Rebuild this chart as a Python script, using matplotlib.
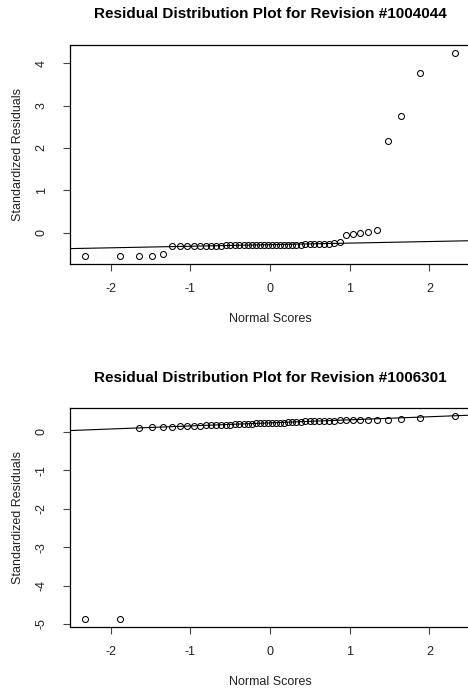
import numpy as np
import matplotlib
matplotlib.use('Agg')
import matplotlib.pyplot as plt

plt.rcParams['font.family'] = ['Liberation Sans', 'DejaVu Sans']

# Normal scores (theoretical quantiles) shared by both revisions, n = 50
normal_scores = [-2.326, -1.881, -1.645, -1.476, -1.341, -1.227, -1.126, -1.036,
                 -0.954, -0.878, -0.806, -0.739, -0.674, -0.613, -0.553, -0.496,
                 -0.440, -0.385, -0.332, -0.279, -0.228, -0.176, -0.126, -0.075,
                 -0.025, 0.025, 0.075, 0.126, 0.176, 0.228, 0.279, 0.332,
                 0.385, 0.440, 0.496, 0.553, 0.613, 0.674, 0.739, 0.806,
                 0.878, 0.954, 1.036, 1.126, 1.227, 1.341, 1.476, 1.645,
                 1.881, 2.326]

# Sorted standardized residuals, revision #1004044
resid_1004044 = [-0.55, -0.55, -0.55, -0.545, -0.50, -0.31, -0.31, -0.31,
                 -0.31, -0.31, -0.31, -0.31, -0.31, -0.31, -0.30, -0.30,
                 -0.30, -0.30, -0.30, -0.30, -0.30, -0.30, -0.30, -0.30,
                 -0.30, -0.30, -0.30, -0.30, -0.29, -0.29, -0.29, -0.29,
                 -0.29, -0.28, -0.26, -0.26, -0.26, -0.26, -0.26, -0.25,
                 -0.22, -0.06, -0.03, 0.00, 0.02, 0.06, 2.17, 2.76,
                 3.76, 4.24]

# Sorted standardized residuals, revision #1006301
resid_1006301 = [-4.86, -4.86, 0.11, 0.12, 0.13, 0.13, 0.14, 0.15,
                 0.15, 0.16, 0.17, 0.17, 0.18, 0.18, 0.19, 0.19,
                 0.20, 0.20, 0.21, 0.21, 0.21, 0.22, 0.22, 0.22,
                 0.23, 0.23, 0.23, 0.24, 0.24, 0.25, 0.25, 0.26,
                 0.26, 0.27, 0.27, 0.28, 0.28, 0.29, 0.29, 0.29,
                 0.30, 0.30, 0.31, 0.31, 0.31, 0.31, 0.32, 0.33,
                 0.36, 0.41]

revisions = ['1004044', '1006301']
residuals = [resid_1004044, resid_1006301]


def r_range(v):
    lo, hi = min(v), max(v)
    pad = (hi - lo) * 0.04
    return lo - pad, hi + pad


fig = plt.figure(figsize=(4.68, 6.88), dpi=100)
W, H = 468, 688
# axes boxes in pixels: left, top, width, height
boxes = [(69.8, 45, 400.4, 219), (69.8, 408, 400.4, 218.7)]

for rev, res, (l, t, w, h) in zip(revisions, residuals, boxes):
    ax = fig.add_axes([l / W, (H - t - h) / H, w / W, h / H])
    ax.plot(normal_scores, res, 'o', mfc='none', mec='black', ms=4.3, mew=0.75)

    # qqline through the quartiles
    q1, q3 = np.quantile(res, [0.25, 0.75])
    z = 0.6744898
    slope = (q3 - q1) / (2 * z)
    ax.axline((0, (q1 + q3) / 2), slope=slope, color='black', lw=0.8)

    ax.set_xlim(r_range(normal_scores))
    ax.set_ylim(r_range(res))
    ax.set_xticks([-2, -1, 0, 1, 2])
    ax.set_xticklabels(['-2', '-1', '0', '1', '2'])
    lo, hi = ax.get_ylim()
    yt = [v for v in range(-5, 5) if lo <= v <= hi]
    ax.set_yticks(yt)
    ax.set_yticklabels([str(v) for v in yt], rotation=90, va='center')

    ax.tick_params(axis='both', direction='out', length=5, width=0.8,
                   labelsize=9, color='#444444', labelcolor='#222222')
    ax.tick_params(axis='x', pad=9)
    ax.tick_params(axis='y', pad=11)
    for s in ax.spines.values():
        s.set_linewidth(0.9)

    ax.set_xlabel('Normal Scores', fontsize=9, color='#222222')
    ax.xaxis.set_label_coords(0.5, -55 / h)
    ax.xaxis.label.set_va('center')
    ax.set_ylabel('Standardized Residuals', fontsize=9, color='#222222')
    ax.yaxis.set_label_coords(-52 / w, 0.5)
    ax.yaxis.label.set_va('center')

    ax.text(0.5, 1 + 30.5 / h, f'Residual Distribution Plot for Revision #{rev}',
            transform=ax.transAxes, ha='center', va='center',
            fontsize=11, fontweight='bold')

fig.savefig('out.png', dpi=100)
